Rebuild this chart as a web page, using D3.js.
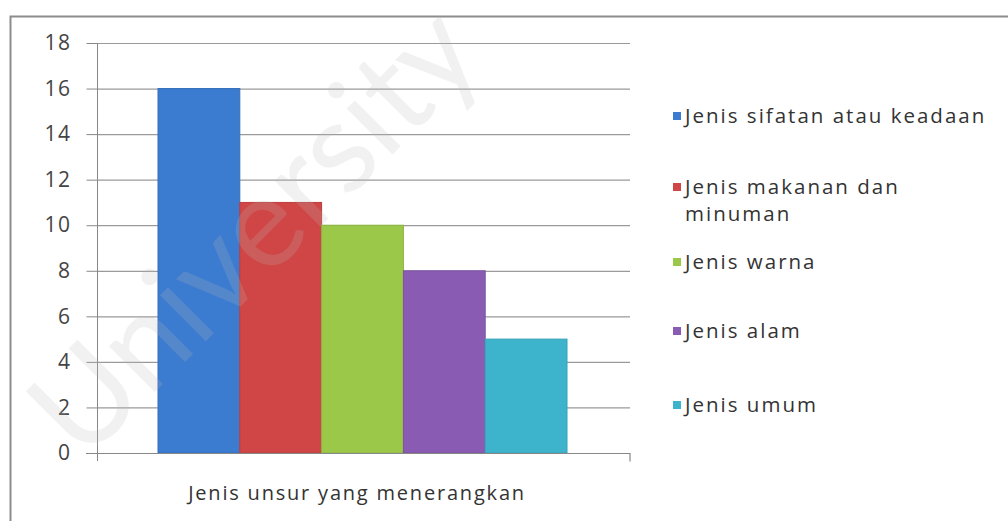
<!DOCTYPE html>
<html lang="en">
<head>
    <meta charset="UTF-8">
    <script src="https://d3js.org/d3.v7.min.js"></script>
    <title>Jenis unsur yang menerangkan</title>
    <style>
        body {
            margin: 0;
            background: #fff;
            font-family: "Open Sans", sans-serif;
        }
        .tick text {
            font-size: 21px;
            fill: #444;
            letter-spacing: 1.5px;
        }
    </style>
</head>
<body>
<script>
    // data
    const categories = ['Jenis sifatan atau keadaan', 'Jenis makanan dan minuman', 'Jenis warna', 'Jenis alam', 'Jenis umum'];
    const values = [16, 11, 10, 8, 5];
    const colors = ['#3b7bd0', '#d04646', '#9cc84a', '#8a5bb2', '#3db3cc'];
    const yTicks = [0, 2, 4, 6, 8, 10, 12, 14, 16, 18];
    const xLabel = 'Jenis unsur yang menerangkan';

    const W = 1008, H = 521;
    const svg = d3.select('body').append('svg')
        .attr('width', W)
        .attr('height', H);

    // outer chart border
    svg.append('rect')
        .attr('x', 10.5).attr('y', 16.5)
        .attr('width', W).attr('height', H)
        .attr('fill', 'none')
        .attr('stroke', '#8c8c8c')
        .attr('stroke-width', 2);

    const plot = { left: 97, right: 630, top: 43, bottom: 453 };

    const y = d3.scaleLinear().domain([0, 18]).range([plot.bottom, plot.top]);
    const x = d3.scaleBand().domain(categories).range([158, 567]).padding(0);

    // gridlines
    svg.append('g')
        .selectAll('line')
        .data(yTicks.filter(d => d > 0))
        .join('line')
        .attr('x1', plot.left).attr('x2', plot.right)
        .attr('y1', d => y(d) + 0.5).attr('y2', d => y(d) + 0.5)
        .attr('stroke', '#9a9a9a')
        .attr('stroke-width', 1.2);

    // y axis
    const yaxis = svg.append('g')
        .attr('transform', `translate(${plot.left + 0.5},0)`)
        .call(d3.axisLeft(y).tickValues(yTicks).tickSize(11).tickPadding(15));
    yaxis.select('.domain').attr('stroke', '#888').attr('d', `M0,${plot.top}V${plot.bottom + 8}`);
    yaxis.selectAll('.tick line').attr('stroke', '#888');
    yaxis.selectAll('.tick text').attr('font-family', '"Open Sans", sans-serif');

    // bars
    svg.append('g')
        .selectAll('rect')
        .data(categories)
        .join('rect')
        .attr('x', d => x(d))
        .attr('y', (d, i) => y(values[i]))
        .attr('width', x.bandwidth())
        .attr('height', (d, i) => y(0) - y(values[i]))
        .attr('fill', (d, i) => colors[i])
        .attr('stroke', (d, i) => d3.color(colors[i]).darker(0.3))
        .attr('stroke-width', 1);

    // x axis line
    svg.append('path')
        .attr('d', `M${plot.left - 11},${plot.bottom + 0.5}H${plot.right}v8`)
        .attr('fill', 'none')
        .attr('stroke', '#888')
        .attr('stroke-width', 1.2);

    svg.append('text')
        .attr('x', 357)
        .attr('y', 500)
        .attr('text-anchor', 'middle')
        .attr('font-size', 20)
        .attr('letter-spacing', 1.8)
        .attr('fill', '#333')
        .text(xLabel);

    // legend
    const legendRows = [
        { lines: ['Jenis sifatan atau keadaan'], y: 116 },
        { lines: ['Jenis makanan dan', 'minuman'], y: 187 },
        { lines: ['Jenis warna'], y: 262 },
        { lines: ['Jenis alam'], y: 331 },
        { lines: ['Jenis umum'], y: 405 }
    ];
    const legend = svg.append('g');
    legendRows.forEach((r, i) => {
        legend.append('rect')
            .attr('x', 673).attr('y', r.y - 4)
            .attr('width', 8).attr('height', 8)
            .attr('fill', colors[i]);
        const t = legend.append('text')
            .attr('x', 685).attr('y', r.y + 7)
            .attr('font-size', 20.5)
            .attr('letter-spacing', 2)
            .attr('fill', '#333');
        r.lines.forEach((ln, j) => {
            t.append('tspan').attr('x', 685).attr('dy', j === 0 ? 0 : 27).text(ln);
        });
    });

    // faint watermark
    svg.append('text')
        .attr('transform', 'translate(285,262) rotate(-45)')
        .attr('text-anchor', 'middle')
        .attr('font-size', 128)
        .attr('font-family', 'Lato, sans-serif')
        .attr('fill', '#bbb')
        .attr('opacity', 0.2)
        .text('University');
</script>
</body>
</html>
